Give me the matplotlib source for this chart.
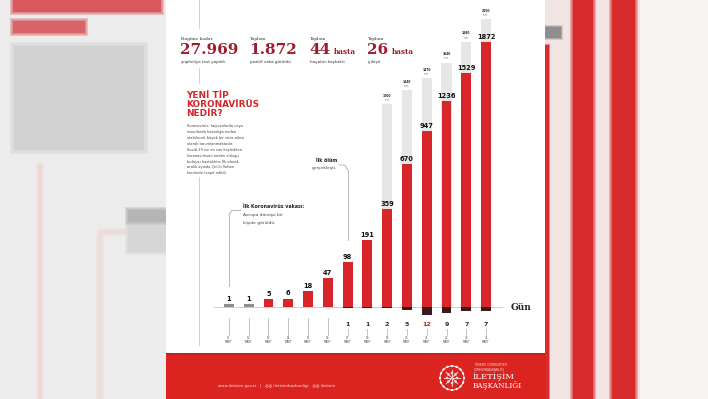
import matplotlib.pyplot as plt
import matplotlib.transforms as mtransforms
from matplotlib.patches import Rectangle, Circle
import numpy as np

# data
dates = ['11', '12', '13', '14', '15', '16', '17', '18', '19', '20', '21', '22', '23', '24']
month = 'MART'
cases = [1, 1, 5, 6, 18, 47, 98, 191, 359, 670, 947, 1236, 1529, 1872]
death_idx = [6, 7, 8, 9, 10, 11, 12, 13]
deaths = [1, 1, 2, 5, 12, 9, 7, 7]
test_idx = [8, 9, 10, 11, 12, 13]
tests = [1200, 1340, 1470, 1640, 1880, 2150]

stat_top = ['Bugüne kadar', 'Toplam', 'Toplam', 'Toplam']
stat_value = ['27.969', '1.872', '44', '26']
stat_unit = ['', '', 'hasta', 'hasta']
stat_bottom = ['şüpheliye test yapıldı', 'pozitif vaka görüldü', 'hayatını kaybetti', 'iyileşti']

para = ["Koronavirüs, hayvanlarda veya",
        "insanlarda hastalığa neden",
        "olabilecek büyük bir virüs ailesi",
        "olarak tanımlanmaktadır.",
        "Kovid-19 ise en son keşfedilen",
        "koronavirüsün neden olduğu",
        "bulaşıcı hastalıktır. İlk olarak",
        "aralık ayında Çin'in Vuhan",
        "kentinde tespit edildi."]

RED = '#d7252a'
DARKRED = '#9e1c2b'

fig = plt.figure(figsize=(7.08, 3.99), dpi=100)

# background layer in pixel coordinates
bg = fig.add_axes([0, 0, 1, 1])
bg.set_xlim(0, 708)
bg.set_ylim(399, 0)
bg.set_autoscale_on(False)
bg.axis('off')


def soft(x0, y0, w, h, color, blur=3):
    for k in (3, 2, 1):
        e = blur * k / 3
        bg.add_patch(Rectangle((x0 - e, y0 - e), w + 2 * e, h + 2 * e, fc=color, ec='none', alpha=0.3))
    bg.add_patch(Rectangle((x0, y0), w, h, fc=color, ec='none'))


# blurred side background
bg.add_patch(Rectangle((0, 0), 166, 399, fc='#ececec', ec='none'))
bg.add_patch(Rectangle((545, 0), 95, 399, fc='#f3e4e4', ec='none'))
bg.add_patch(Rectangle((640, 0), 68, 399, fc='#f7f4f4', ec='none'))
soft(13, 0, 148, 12, '#d9595c', 3)
soft(13, 21, 72, 12, '#d86466', 3)
soft(14, 46, 130, 104, '#d2d2d2', 4)
soft(38, 165, 4, 234, '#f1d6d6', 2)
soft(98, 235, 4, 164, '#eddcdc', 2)
soft(100, 230, 25, 4, '#eddcdc', 2)
soft(128, 210, 40, 42, '#d6d6d6', 3)
soft(128, 210, 40, 12, '#b5b5b5', 3)
soft(573, 0, 20, 399, '#d92a2c', 3)
soft(612, 0, 23, 399, '#d92a2c', 3)
soft(545, 45, 4, 354, '#d92a2c', 1)
soft(545, 27, 16, 11, '#8e8e8e', 2)

# panel and footer
bg.add_patch(Rectangle((166, 0), 379, 353, fc='white', ec='none'))
bg.add_patch(Rectangle((166, 353), 379, 46, fc='#db2420', ec='none'))
bg.add_patch(Rectangle((166, 353), 379, 2, fc='#c71d1d', ec='none'))

# guide lines
for y0, y1 in [(0, 28), (68, 83), (177, 345)]:
    bg.plot([199, 199], [y0, y1], color='#c9c9c9', lw=0.6)

# headline figures
stat_x = [181, 250, 310, 368]
for sx, t, v, u, b in zip(stat_x, stat_top, stat_value, stat_unit, stat_bottom):
    bg.text(sx, 39, t, fontsize=3.2, family='DejaVu Serif', color='#333333', va='center')
    num = bg.text(sx - 1, 50, v, fontsize=11, family='DejaVu Serif', weight='bold', color=DARKRED, va='center')
    if u:
        bg.text(sx + 24, 51.5, u, fontsize=5.2, family='DejaVu Serif', weight='bold', color=DARKRED, va='center')
    bg.text(sx, 61.5, b, fontsize=3.0, color='#333333', va='center')

# title and paragraph
for i, line in enumerate(['YENİ TİP', 'KORONAVİRÜS', 'NEDİR?']):
    bg.text(186, 95 + i * 9.5, line, fontsize=6.4, weight='heavy', color='#d3272b', va='center')
for i, line in enumerate(para):
    bg.text(187, 126 + i * 5.9, line, fontsize=2.6, color='#444444', va='center')

# chart
fwd = lambda v: np.sign(v) * np.abs(v) ** 0.6
inv = lambda v: np.sign(v) * np.abs(v) ** (1 / 0.6)
ax = fig.add_axes([219 / 708, 1 - 307 / 399, 277 / 708, 292 / 399])
ax.set_xlim(-0.5, 13.5)
ax.set_yscale('function', functions=(fwd, inv))
ax.set_ylim(0, 2205)
ax.axis('off')

x = np.arange(len(cases))
ax.bar(test_idx, tests, width=0.52, color='#e6e6e6')
colors = ['#8d8d8d' if v < 2 else RED for v in cases]
ax.bar(x, cases, width=0.5, color=colors)
for i, v in enumerate(cases):
    ax.annotate(str(v), (i, v), xytext=(0, 1.5), textcoords='offset points',
                ha='center', va='bottom', fontsize=4.8, weight='heavy', color='#111111')
for i, t in zip(test_idx, tests):
    ax.annotate(str(t), (i, t), xytext=(0, 4.5), textcoords='offset points',
                ha='center', va='bottom', fontsize=2.2, weight='bold', color='#222222')
    ax.annotate('test', (i, t), xytext=(0, 1.5), textcoords='offset points',
                ha='center', va='bottom', fontsize=2.0, color='#888888')

# deaths below the line
axd = fig.add_axes([219 / 708, 1 - 317 / 399, 277 / 708, 10 / 399])
axd.set_xlim(-0.5, 13.5)
axd.set_ylim(-16, 0)
axd.axis('off')
axd.bar(death_idx, [-d for d in deaths], width=0.5, color='#3a1a1c')

bg.plot([214, 502], [307, 307], color='#c4c4c4', lw=0.6)
bg.text(511, 307, 'Gün', fontsize=6.5, family='DejaVu Serif', weight='bold', color='#222222', va='center')

trans = mtransforms.blended_transform_factory(axd.transData, bg.transData)
for i, d in zip(death_idx, deaths):
    bg.text(i, 324, str(d), transform=trans, ha='center', va='center', fontsize=4.6,
            weight='heavy', color='#b3262b' if d >= 10 else '#3a2a2a')
for i, day in enumerate(dates):
    top = 318 if i not in death_idx else 329
    bg.plot([i, i], [top, 335], transform=trans, color='#a8a8a8', lw=0.5)
    bg.text(i, 338, day, transform=trans, ha='center', va='center', fontsize=2.0, color='#555555')
    bg.text(i, 342, month, transform=trans, ha='center', va='center', fontsize=2.0, color='#555555')

# callouts
bg.plot([0, 0], [215, 286], transform=trans, color='#9a9a9a', lw=0.5)
bg.plot([0, 0.15, 0.6], [215, 210.5, 210.5], transform=trans, color='#9a9a9a', lw=0.5)
bg.text(243, 207, 'İlk Koronavirüs vakası:', fontsize=3.4, weight='bold', color='#222222', va='center')
bg.text(243, 215, 'Avrupa dönüşü bir', fontsize=3.2, color='#444444', va='center')
bg.text(243, 223, 'kişide görüldü.', fontsize=3.2, color='#444444', va='center')

bg.plot([6, 6], [170, 240], transform=trans, color='#9a9a9a', lw=0.5)
bg.plot([5.55, 5.85, 6], [165, 165, 170], transform=trans, color='#9a9a9a', lw=0.5)
bg.text(337, 160, 'İlk ölüm', fontsize=3.4, weight='bold', color='#222222', va='center', ha='right')
bg.text(337, 168, 'gerçekleşti.', fontsize=3.2, color='#444444', va='center', ha='right')

# footer
bg.text(218, 386, 'www.iletisim.gov.tr   |   ◎◎ iletisimbaskanligi   ◎◎ iletisim',
        fontsize=2.9, color='#fbe3e3', va='center')
bg.add_patch(Circle((452, 378), 12, fc='none', ec='#f6dcdc', lw=0.8))
for a in np.linspace(0, 2 * np.pi, 16, endpoint=False):
    bg.add_patch(Circle((452 + 12 * np.cos(a), 378 + 12 * np.sin(a)), 1.1, fc='white', ec='none'))
for a in np.linspace(0, 2 * np.pi, 8, endpoint=False):
    bg.plot([452, 452 + 8 * np.cos(a)], [378, 378 + 8 * np.sin(a)], color='#f4d0d0', lw=0.7)
    bg.add_patch(Circle((452 + 5 * np.cos(a), 378 + 5 * np.sin(a)), 1.3, fc='#f8e0e0', ec='none'))
bg.text(474, 365, 'TÜRKİYE CUMHURİYETİ', fontsize=2.2, color='#f6d6d6', va='center')
bg.text(474, 369.5, 'CUMHURBAŞKANLIĞI', fontsize=2.2, color='#f6d6d6', va='center')
bg.text(473, 377, 'İLETİŞİM', fontsize=6, family='DejaVu Serif', color='white', va='center')
bg.text(473, 385.5, 'BAŞKANLIĞI', fontsize=5.2, family='DejaVu Serif', color='white', va='center')

fig.savefig('out.png', dpi=100)
